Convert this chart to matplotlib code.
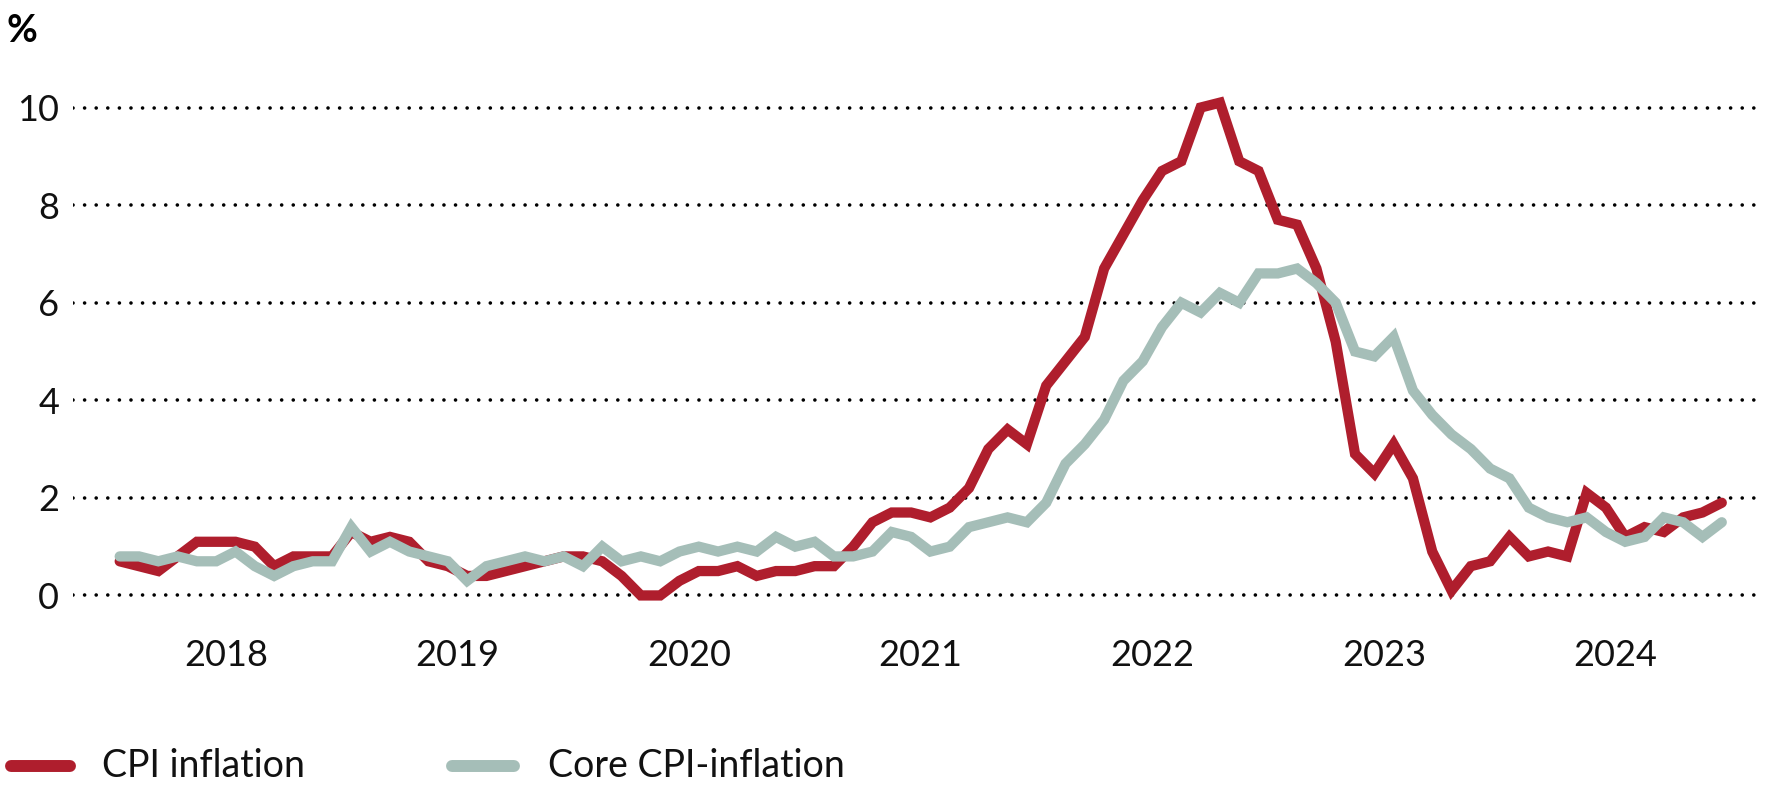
import numpy as np
import matplotlib
matplotlib.use("Agg")
import matplotlib.pyplot as plt
from matplotlib.lines import Line2D

plt.rcParams['font.family'] = ['Lato', 'DejaVu Sans']

# monthly, Jan 2018 - Dec 2024, % y/y
years = [2018, 2019, 2020, 2021, 2022, 2023, 2024]
cpi = [
    0.7, 0.6, 0.5, 0.8, 1.1, 1.1, 1.1, 1.0, 0.6, 0.8, 0.8, 0.8,
    1.3, 1.1, 1.2, 1.1, 0.7, 0.6, 0.4, 0.4, 0.5, 0.6, 0.7, 0.8,
    0.8, 0.7, 0.4, 0.0, 0.0, 0.3, 0.5, 0.5, 0.6, 0.4, 0.5, 0.5,
    0.6, 0.6, 1.0, 1.5, 1.7, 1.7, 1.6, 1.8, 2.2, 3.0, 3.4, 3.1,
    4.3, 4.8, 5.3, 6.7, 7.4, 8.1, 8.7, 8.9, 10.0, 10.1, 8.9, 8.7,
    7.7, 7.6, 6.7, 5.2, 2.9, 2.5, 3.1, 2.4, 0.9, 0.1, 0.6, 0.7,
    1.2, 0.8, 0.9, 0.8, 2.1, 1.8, 1.2, 1.4, 1.3, 1.6, 1.7, 1.9,
]
core = [
    0.8, 0.8, 0.7, 0.8, 0.7, 0.7, 0.9, 0.6, 0.4, 0.6, 0.7, 0.7,
    1.4, 0.9, 1.1, 0.9, 0.8, 0.7, 0.3, 0.6, 0.7, 0.8, 0.7, 0.8,
    0.6, 1.0, 0.7, 0.8, 0.7, 0.9, 1.0, 0.9, 1.0, 0.9, 1.2, 1.0,
    1.1, 0.8, 0.8, 0.9, 1.3, 1.2, 0.9, 1.0, 1.4, 1.5, 1.6, 1.5,
    1.9, 2.7, 3.1, 3.6, 4.4, 4.8, 5.5, 6.0, 5.8, 6.2, 6.0, 6.6,
    6.6, 6.7, 6.4, 6.0, 5.0, 4.9, 5.3, 4.2, 3.7, 3.3, 3.0, 2.6,
    2.4, 1.8, 1.6, 1.5, 1.6, 1.3, 1.1, 1.2, 1.6, 1.5, 1.2, 1.5,
]
yticks = [0, 2, 4, 6, 8, 10]
labels = ['CPI inflation', 'Core CPI-inflation']

red = '#AF1E2D'
grey = '#A5BEB8'

W, H = 1772, 793
fig = plt.figure(figsize=(W / 100, H / 100), dpi=100)
ax = fig.add_axes([73 / W, 0.1999, (1765 - 73) / W, 0.9136 - 0.1999])

x = np.arange(len(cpi))
ax.plot(x, cpi, color=red, lw=7.4, solid_joinstyle='miter',
        solid_capstyle='round', zorder=3)
ax.plot(x, core, color=grey, lw=7.4, solid_joinstyle='miter',
        solid_capstyle='round', zorder=4)

for v in yticks:
    ax.axhline(v, color='black', lw=2.6, linestyle=(0, (0.01, 3.2)),
               dash_capstyle='round', zorder=1)

ax.set_xlim(-2.42, 85.24)
ax.set_ylim(-0.8, 10.8)
ax.set_yticks(yticks)
ax.set_yticklabels([str(v) for v in yticks])
ax.set_xticks([5.5 + 12 * k for k in range(len(years))])
ax.set_xticklabels([str(y) for y in years])
ax.tick_params(axis='y', length=0, pad=10, labelsize=26, labelcolor='#111111')
ax.tick_params(axis='x', length=0, pad=3.5, labelsize=26, labelcolor='#111111')
for s in ax.spines.values():
    s.set_visible(False)

fig.text(6 / W, 1 - 31 / H, '%', fontsize=27, fontweight='bold', va='center')

# legend
ly = 1 - 766 / H
for (x0, x1, tx), c, lab in zip([(11, 70, 102), (452, 514, 548)], [red, grey], labels):
    fig.add_artist(Line2D([x0 / W, x1 / W], [ly, ly], color=c, lw=8.6,
                          solid_capstyle='round', transform=fig.transFigure))
    fig.text(tx / W, ly, lab, fontsize=27, color='#111111', va='center')

fig.savefig('out.png', dpi=100)
